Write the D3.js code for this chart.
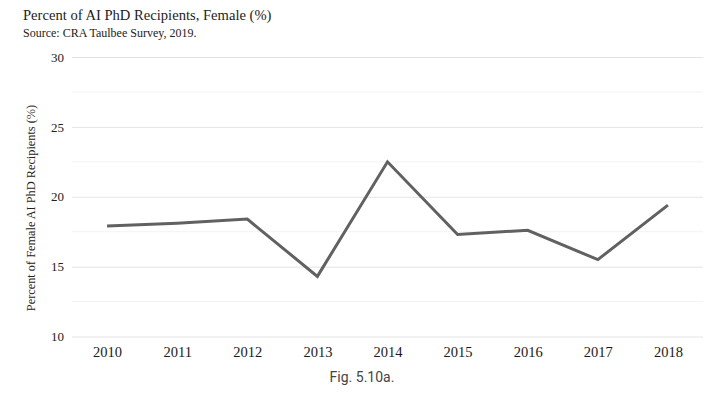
<!DOCTYPE html>
<html>
<head>
<meta charset="utf-8">
<script src="https://cdn.jsdelivr.net/npm/d3@7"></script>
<style>
  html, body { margin: 0; padding: 0; background: #fff; }
  svg { display: block; }
</style>
</head>
<body>
<svg id="chart" width="720" height="395"></svg>
<script>
const years = ["2010","2011","2012","2013","2014","2015","2016","2017","2018"];
const femalePct = [17.9, 18.1, 18.4, 14.3, 22.5, 17.3, 17.6, 15.5, 19.4];
const yTicks = [10, 15, 20, 25, 30];
const yMinorTicks = [12.5, 17.5, 22.5, 27.5];
const titleText = "Percent of AI PhD Recipients, Female (%)";
const sourceText = "Source: CRA Taulbee Survey, 2019.";
const yAxisTitle = "Percent of Female AI PhD Recipients (%)";
const captionText = "Fig. 5.10a.";

const svg = d3.select("#chart");
const serif = "'Liberation Serif', 'Times New Roman', Times, serif";
const plotLeft = 72, plotRight = 703, plotTop = 57, plotBottom = 336.5;

const x = d3.scalePoint().domain(years).range([plotLeft, plotRight]).padding(0.5);
const y = d3.scaleLinear().domain([10, 30]).range([plotBottom, plotTop]);

// minor gridlines
svg.append("g").selectAll("line").data(yMinorTicks).join("line")
  .attr("x1", plotLeft).attr("x2", plotRight)
  .attr("y1", d => y(d)).attr("y2", d => y(d))
  .attr("stroke", "#f3f3f3").attr("stroke-width", 1);

// major gridlines + labels via axis
const yAxis = d3.axisLeft(y).tickValues(yTicks).tickSize(-(plotRight - plotLeft)).tickPadding(8).tickFormat(d3.format("d"));
const gy = svg.append("g").attr("transform", `translate(${plotLeft},0)`).call(yAxis);
gy.select(".domain").remove();
gy.selectAll(".tick line").attr("stroke", "#e4e4e4").attr("stroke-width", 1);
gy.selectAll(".tick text").attr("font-family", serif).attr("font-size", 13).attr("fill", "#222");

// x axis
const xAxis = d3.axisBottom(x).tickSize(0).tickPadding(10);
const gx = svg.append("g").attr("transform", `translate(0,${plotBottom})`).call(xAxis);
gx.select(".domain").remove();
gx.selectAll(".tick text").attr("font-family", serif).attr("font-size", 14.5).attr("fill", "#1a1a1a");

// line
const line = d3.line().x((d, i) => x(years[i])).y(d => y(d));
svg.append("path").datum(femalePct)
  .attr("d", line)
  .attr("fill", "none")
  .attr("stroke", "#616161")
  .attr("stroke-width", 3)
  .attr("stroke-linejoin", "miter");

// titles
svg.append("text").attr("x", 23).attr("y", 20)
  .attr("font-family", serif).attr("font-size", 14.6).attr("fill", "#222")
  .text(titleText);
svg.append("text").attr("x", 23).attr("y", 37)
  .attr("font-family", serif).attr("font-size", 12).attr("fill", "#222")
  .text(sourceText);

// y axis title
svg.append("text")
  .attr("transform", `translate(35,208) rotate(-90)`)
  .attr("text-anchor", "middle")
  .attr("font-family", serif).attr("font-size", 12.3).attr("fill", "#222")
  .text(yAxisTitle);

// caption
svg.append("text").attr("x", 362).attr("y", 382)
  .attr("text-anchor", "middle")
  .attr("font-family", "Roboto, 'Noto Sans', sans-serif").attr("font-size", 14)
  .attr("fill", "#444")
  .text(captionText);
</script>
</body>
</html>
